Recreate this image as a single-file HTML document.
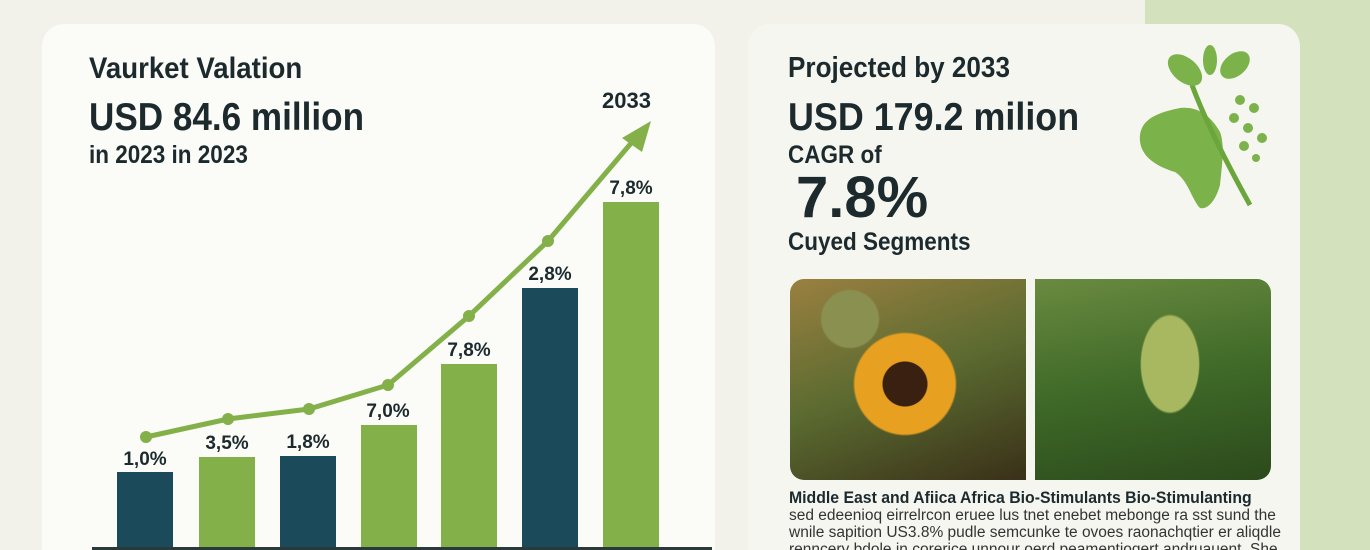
<!DOCTYPE html>
<html style="width:1370px;height:550px;overflow:hidden"><head><meta charset="utf-8"><style>
html,body{margin:0;width:1370px;height:550px;overflow:hidden}
body{background:#f2f2ea;font-family:"Liberation Sans",sans-serif;position:relative}
.bg2{position:absolute;left:1145px;top:0;width:225px;height:550px;background:#d3e2bd}
.card{position:absolute;background:#fbfbf7;border-radius:22px 22px 0 0}
.t{position:absolute;color:#1c2a2e;font-weight:bold;white-space:nowrap}
.bar{position:absolute;width:56px;bottom:0}
.d{background:#1b4a5a}.g{background:#84b04a}
.lb{position:absolute;font-size:19px;font-weight:bold;color:#1c2a2e;width:80px;text-align:center}
.p{font-size:15.5px;font-weight:normal;color:#333}
</style></head><body>
<div class="bg2"></div>
<div class="card" style="left:42px;top:24px;width:673px;height:526px"></div>
<div class="card" style="left:748px;top:24px;width:552px;height:526px;background:#f6f6f0"></div>
<div class="t" style="left:89px;top:52px;font-size:30px;transform:scaleX(.92);transform-origin:left">Vaurket Valation</div>
<div class="t" style="left:89px;top:96px;font-size:39px;transform:scaleX(.9);transform-origin:left">USD 84.6 million</div>
<div class="t" style="left:89px;top:141px;font-size:25px;transform:scaleX(.9);transform-origin:left">in 2023 in 2023</div>
<div class="t" style="left:602px;top:88px;font-size:22px">2033</div>
<div style="position:absolute;left:42px;top:0;width:673px;height:550px">
<div class="bar d" style="left:75px;height:78px"></div>
<div class="bar g" style="left:157px;height:93px"></div>
<div class="bar d" style="left:238px;height:94px"></div>
<div class="bar g" style="left:319px;height:125px"></div>
<div class="bar g" style="left:399px;height:186px"></div>
<div class="bar d" style="left:480px;height:262px"></div>
<div class="bar g" style="left:561px;height:348px"></div>
<div style="position:absolute;left:50px;top:547px;width:620px;height:3px;background:#2a3a3a"></div>
</div>
<div class="lb" style="left:105px;top:449px">1,0%</div>
<div class="lb" style="left:187px;top:433px">3,5%</div>
<div class="lb" style="left:268px;top:432px">1,8%</div>
<div class="lb" style="left:348px;top:401px">7,0%</div>
<div class="lb" style="left:429px;top:340px">7,8%</div>
<div class="lb" style="left:510px;top:264px">2,8%</div>
<div class="lb" style="left:591px;top:178px">7,8%</div>
<svg style="position:absolute;left:0;top:0" width="720" height="550">
<polyline points="146,437 228,419 309,409 388,385 469,316 548,241 638,135" fill="none" stroke="#84b04a" stroke-width="5"/>
<polygon points="651,121 622,138 642,152" fill="#84b04a"/>
<g fill="#84b04a"><circle cx="146" cy="437" r="6"/><circle cx="228" cy="419" r="6"/><circle cx="309" cy="409" r="6"/><circle cx="388" cy="385" r="6"/><circle cx="469" cy="316" r="6"/><circle cx="548" cy="241" r="6"/></g>
</svg>
<div class="t" style="left:788px;top:52px;font-size:29px;transform:scaleX(.9);transform-origin:left">Projected by 2033</div>
<div class="t" style="left:788px;top:96px;font-size:39px;transform:scaleX(.92);transform-origin:left">USD 179.2 milion</div>
<div class="t" style="left:788px;top:141px;font-size:25px;transform:scaleX(.9);transform-origin:left">CAGR of</div>
<div class="t" style="left:796px;top:164px;font-size:58px">7.8%</div>
<div class="t" style="left:788px;top:228px;font-size:25px;transform:scaleX(.9);transform-origin:left">Cuyed Segments</div>
<svg style="position:absolute;left:1130px;top:40px" width="150" height="175">
<path d="M10,95 C12,78 30,72 50,68 C70,66 82,78 90,92 C95,105 92,125 90,145 C86,160 78,170 70,168 C62,160 58,140 45,132 C25,126 8,115 10,95Z" fill="#7cb24a"/>
<path d="M62,45 C75,80 95,120 120,165" stroke="#6ba63c" stroke-width="5" fill="none"/>
<ellipse cx="55" cy="30" rx="20" ry="12" fill="#7cb24a" transform="rotate(40 55 30)"/>
<ellipse cx="105" cy="25" rx="17" ry="11" fill="#7cb24a" transform="rotate(-40 105 25)"/>
<ellipse cx="80" cy="20" rx="7" ry="15" fill="#7cb24a"/>
<g fill="#7cb24a"><circle cx="110" cy="60" r="5"/><circle cx="124" cy="68" r="5"/><circle cx="104" cy="78" r="5"/><circle cx="118" cy="88" r="5"/><circle cx="132" cy="98" r="5"/><circle cx="114" cy="106" r="5"/><circle cx="126" cy="118" r="4"/></g>
</svg>
<div style="position:absolute;left:790px;top:279px;width:236px;height:201px;border-radius:14px 0 0 14px;background:radial-gradient(circle at 115px 105px,#3a2010 0 22px,#e8a020 23px 50px,transparent 52px),radial-gradient(circle at 60px 40px,#8a9050 0 28px,transparent 30px),linear-gradient(160deg,#9a8040,#5a6a30 50%,#3a3018)"></div>
<div style="position:absolute;left:1035px;top:279px;width:236px;height:201px;border-radius:0 14px 14px 0;background:radial-gradient(ellipse 30px 50px at 135px 85px,#a8b860 0 95%,transparent),linear-gradient(170deg,#6a8a40,#3f6a28 50%,#2c4a1c)"></div>
<div class="t" style="left:789px;top:488px;font-size:17px;transform:scaleX(.93);transform-origin:left">Middle East and Afiica Africa Bio-Stimulants Bio-Stimulanting</div>
<div class="t p" style="left:789px;top:507px">sed edeenioq eirrelrcon eruee lus tnet enebet mebonge ra sst sund the</div>
<div class="t p" style="left:789px;top:524px">wnile sapition US3.8% pudle semcunke te ovoes raonachqtier er aliqdle</div>
<div class="t p" style="left:789px;top:541px">renncery bdole in corerice unnour oerd peamentioqert andruauent. She</div>
</body></html>
